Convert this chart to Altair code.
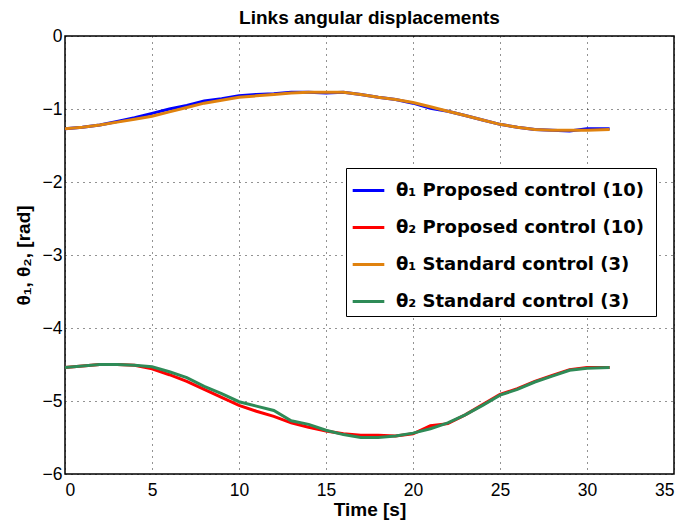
import altair as alt
import pandas as pd

time = [0, 1, 2, 3, 4, 5, 6, 7, 8, 9, 10, 11, 12, 13, 14, 15, 16, 17, 18, 19, 20,
        21, 22, 23, 24, 25, 26, 27, 28, 29, 30, 31.3]
theta1_proposed = [-1.27, -1.25, -1.22, -1.17, -1.12, -1.06, -1.00, -0.95, -0.89, -0.86, -0.82,
                   -0.80, -0.79, -0.77, -0.77, -0.78, -0.77, -0.80, -0.84, -0.87, -0.92,
                   -0.99, -1.03, -1.09, -1.15, -1.21, -1.25, -1.28, -1.29, -1.30, -1.27, -1.27]
theta2_proposed = [-4.54, -4.52, -4.50, -4.50, -4.51, -4.56, -4.64, -4.73, -4.84, -4.95, -5.06,
                   -5.14, -5.21, -5.30, -5.36, -5.41, -5.45, -5.47, -5.47, -5.48, -5.45,
                   -5.34, -5.31, -5.19, -5.05, -4.91, -4.83, -4.73, -4.65, -4.57, -4.54, -4.54]
theta1_standard = [-1.27, -1.25, -1.22, -1.18, -1.14, -1.10, -1.04, -0.98, -0.92, -0.88, -0.84,
                   -0.82, -0.80, -0.78, -0.77, -0.77, -0.77, -0.80, -0.84, -0.87, -0.91,
                   -0.97, -1.03, -1.09, -1.15, -1.21, -1.25, -1.28, -1.29, -1.29, -1.29, -1.28]
theta2_standard = [-4.54, -4.52, -4.50, -4.50, -4.51, -4.53, -4.60, -4.68, -4.80, -4.90, -5.01,
                   -5.07, -5.13, -5.27, -5.32, -5.40, -5.46, -5.50, -5.50, -5.48, -5.44,
                   -5.38, -5.30, -5.19, -5.06, -4.92, -4.84, -4.74, -4.66, -4.58, -4.55, -4.54]

labels = ["θ₁  Proposed control (10)", "θ₂ Proposed control (10)",
          "θ₁ Standard control (3)", "θ₂ Standard control (3)"]
colors = ["#0000FF", "#FF0000", "#E0820E", "#2E8B57"]
series = [theta1_proposed, theta2_proposed, theta1_standard, theta2_standard]

rows = []
for lab, vals in zip(labels, series):
    for t, v in zip(time, vals):
        rows.append({"t": t, "v": v, "s": lab})
df = pd.DataFrame(rows)

FONT = "Liberation Sans"

color = alt.Color("s:N",
                  scale=alt.Scale(domain=labels, range=colors),
                  legend=alt.Legend(title=None, orient="none", legendX=281, legendY=132,
                                    symbolType="stroke", symbolSize=1000, symbolStrokeWidth=3,
                                    labelFont="DejaVu Sans", labelFontSize=18,
                                    labelFontWeight="bold",
                                    labelColor="black", labelLimit=400, rowPadding=10,
                                    fillColor="white", strokeColor="black", padding=5,
                                    labelOffset=10))

x = alt.X("t:Q", scale=alt.Scale(domain=[0, 35], nice=False),
          axis=alt.Axis(title="Time [s]", values=[0, 5, 10, 15, 20, 25, 30, 35]))
y = alt.Y("v:Q", scale=alt.Scale(domain=[-6, 0], nice=False),
          axis=alt.Axis(title="θ₁, θ₂, [rad]", values=[0, -1, -2, -3, -4, -5, -6]))

layers = []
for lab in labels:
    layers.append(
        alt.Chart(df).transform_filter(alt.datum.s == lab)
        .mark_line(strokeWidth=3)
        .encode(x=x, y=y, color=color)
    )

chart = alt.layer(*layers).properties(
    width=609, height=438,
    title=alt.TitleParams("Links angular displacements", font=FONT, fontSize=19,
                          fontWeight="bold", color="black", offset=-1),
    padding={"left": 57, "top": 28, "right": 3, "bottom": 48},
    autosize="none",
).configure_view(stroke="black", strokeWidth=1.5).configure_axis(
    grid=True, gridColor="black", gridDash=[1, 5], gridOpacity=0.85, gridWidth=1,
    domain=False, ticks=False, labelFont=FONT, labelFontSize=17.5, labelColor="black",
    titleFont=FONT, titleFontSize=19, titleFontWeight="bold", titleColor="black",
).configure_axisY(titlePadding=9, labelPadding=3).configure_axisX(titlePadding=2, labelPadding=7)

chart.save("out.html", embed_options={"renderer": "svg", "actions": False})
